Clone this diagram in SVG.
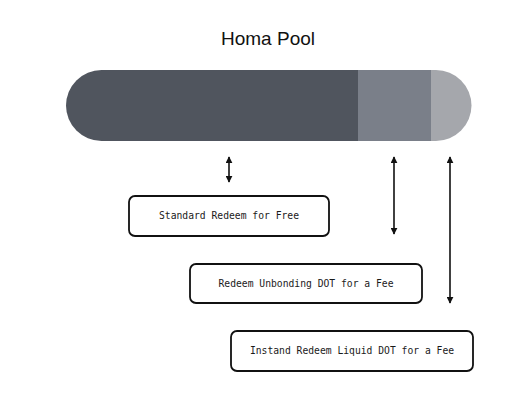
<svg xmlns="http://www.w3.org/2000/svg" width="520" height="400" viewBox="0 0 520 400">
<style>
.title{font-family:"Liberation Sans",Arial,sans-serif;font-size:19px;fill:#111;}
.box{fill:#fff;stroke:#111;stroke-width:1.8;}
.lbl{font-family:"DejaVu Sans Mono",monospace;font-size:9.7px;fill:#1a1a1a;text-anchor:middle;}
.conn line{stroke:#111;stroke-width:1.6;}
</style>
<defs>
<marker id="ah" viewBox="0 0 10 10" refX="9" refY="5" markerWidth="7" markerHeight="7" markerUnits="userSpaceOnUse" orient="auto-start-reverse">
<path d="M0,0 L10,5 L0,10 z" fill="#111"/>
</marker>
<clipPath id="pill"><rect x="66" y="70" width="405.5" height="71" rx="35.5" ry="35.5"/></clipPath>
</defs>
<rect width="520" height="400" fill="#fff"/>
<text class="title" x="268" y="45" text-anchor="middle">Homa Pool</text>
<g id="pool" clip-path="url(#pill)">
<rect x="66" y="70" width="292" height="71" fill="#50555e"/>
<rect x="358" y="70" width="73" height="71" fill="#7a7f89"/>
<rect x="431" y="70" width="41" height="71" fill="#a5a7ac"/>
</g>
<g class="conn" id="connectors">
<line x1="229" y1="157" x2="229" y2="182" marker-start="url(#ah)" marker-end="url(#ah)"/>
<line x1="394" y1="157" x2="394" y2="234" marker-start="url(#ah)" marker-end="url(#ah)"/>
<line x1="450" y1="157" x2="450" y2="303" marker-start="url(#ah)" marker-end="url(#ah)"/>
</g>
<g id="standard">
<rect class="box" x="129" y="196" width="200" height="40" rx="6"/>
<text class="lbl" x="229" y="219">Standard Redeem for Free</text>
</g>
<g id="unbonding">
<rect class="box" x="190" y="264" width="232" height="39" rx="6"/>
<text class="lbl" x="306" y="286.5">Redeem Unbonding DOT for a Fee</text>
</g>
<g id="instant">
<rect class="box" x="231" y="331" width="242" height="40" rx="6"/>
<text class="lbl" x="352" y="354">Instand Redeem Liquid DOT for a Fee</text>
</g>
</svg>
